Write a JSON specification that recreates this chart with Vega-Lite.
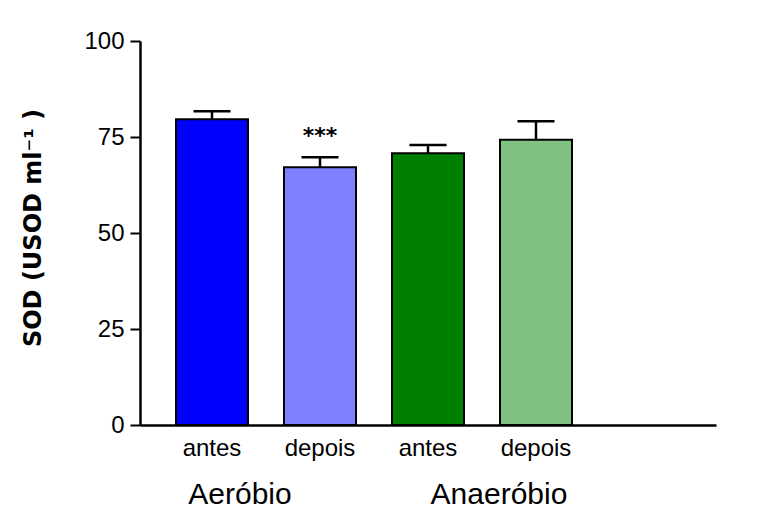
{
  "$schema": "https://vega.github.io/schema/vega-lite/v6.json",
  "width": 576,
  "height": 384,
  "autosize": {"type": "none"},
  "padding": {"left": 140, "top": 41, "right": 60, "bottom": 93},
  "background": "white",
  "config": {"view": {"stroke": null}},
  "data": {
    "values": [
      {"id": "a1", "grupo": "Aeróbio", "cond": "antes", "sod": 79.6, "hi": 81.7},
      {"id": "a2", "grupo": "Aeróbio", "cond": "depois", "sod": 67.1, "hi": 69.7, "sig": "***"},
      {"id": "b1", "grupo": "Anaeróbio", "cond": "antes", "sod": 70.8, "hi": 72.9},
      {"id": "b2", "grupo": "Anaeróbio", "cond": "depois", "sod": 74.3, "hi": 79.1}
    ]
  },
  "encoding": {
    "x": {
      "field": "id",
      "type": "nominal",
      "sort": null,
      "scale": {"domain": ["a1", "a2", "b1", "b2", "z"], "paddingInner": 0.3333, "paddingOuter": 0.3333},
      "axis": {
        "title": null,
        "labelExpr": "datum.value == 'z' ? '' : (datum.value == 'a1' || datum.value == 'b1' ? 'antes' : 'depois')",
        "labelAngle": 0,
        "labelFont": "Liberation Sans",
        "labelFontSize": 24,
        "labelColor": "black",
        "labelBaseline": "alphabetic",
        "labelPadding": 30,
        "ticks": false,
        "tickSize": 0,
        "domainColor": "black",
        "domainWidth": 2.5,
        "grid": false
      }
    },
    "y": {
      "type": "quantitative",
      "scale": {"domain": [0, 100], "nice": false, "zero": true},
      "axis": {
        "title": "SOD (USOD ml⁻¹ )",
        "titleFont": "DejaVu Sans",
        "titleFontWeight": "bold",
        "titleFontSize": 24,
        "titleColor": "black",
        "titleAngle": 270,
        "titleAlign": "center",
        "titleBaseline": "middle",
        "titleX": -107,
        "titleY": 186.5,
        "values": [0, 25, 50, 75, 100],
        "labelFont": "Liberation Sans",
        "labelFontSize": 24,
        "labelColor": "black",
        "labelPadding": 6,
        "tickSize": 10,
        "tickWidth": 2,
        "tickColor": "black",
        "domainColor": "black",
        "domainWidth": 2.5,
        "grid": false
      }
    }
  },
  "layer": [
    {
      "mark": {"type": "bar", "stroke": "black", "strokeWidth": 2},
      "encoding": {
        "y": {"field": "sod"},
        "color": {
          "field": "id",
          "type": "nominal",
          "scale": {"domain": ["a1", "a2", "b1", "b2"], "range": ["#0000FF", "#8080FF", "#008000", "#80C080"]},
          "legend": null
        }
      }
    },
    {
      "mark": {"type": "rule", "color": "black", "strokeWidth": 2.5},
      "encoding": {"y": {"field": "sod"}, "y2": {"field": "hi"}}
    },
    {
      "mark": {"type": "tick", "color": "black", "size": 37, "thickness": 2.5, "opacity": 1},
      "encoding": {"y": {"field": "hi"}}
    },
    {
      "transform": [{"filter": "isValid(datum.sig)"}],
      "mark": {"type": "text", "font": "DejaVu Sans", "fontWeight": "bold", "fontSize": 22, "baseline": "alphabetic", "align": "center", "dy": -14, "color": "black"},
      "encoding": {"y": {"field": "hi"}, "text": {"field": "sig"}}
    },
    {
      "data": {"values": [{"id": "a1", "grupo": "Aeróbio", "base": 0}]},
      "mark": {"type": "text", "font": "Liberation Sans", "fontSize": 30, "baseline": "alphabetic", "align": "center", "dx": 28, "dy": 78.5, "color": "black"},
      "encoding": {"y": {"field": "base"}, "text": {"field": "grupo"}}
    },
    {
      "data": {"values": [{"id": "b1", "grupo": "Anaeróbio", "base": 0}]},
      "mark": {"type": "text", "font": "Liberation Sans", "fontSize": 30, "baseline": "alphabetic", "align": "center", "dx": 71, "dy": 78.5, "color": "black"},
      "encoding": {"y": {"field": "base"}, "text": {"field": "grupo"}}
    }
  ]
}
